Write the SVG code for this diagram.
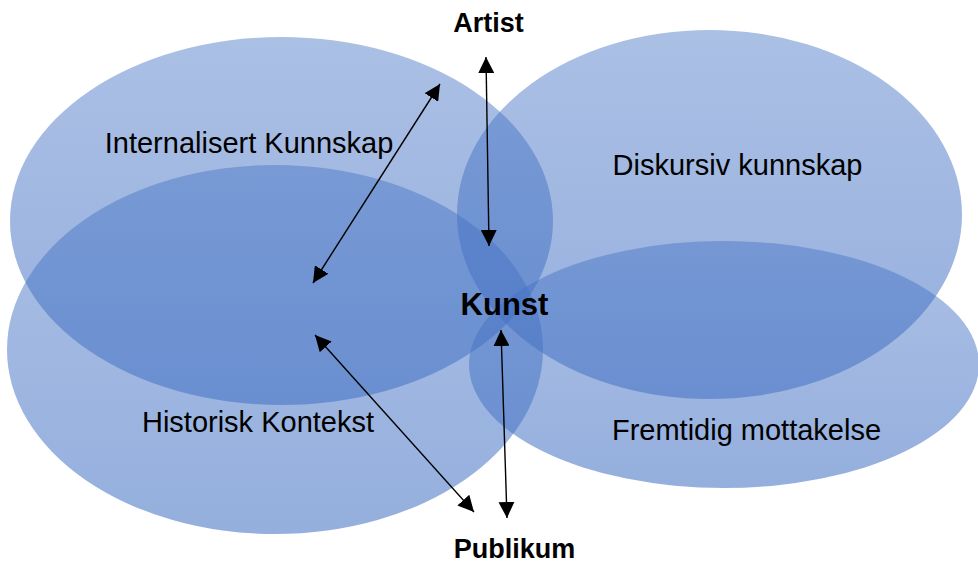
<svg xmlns="http://www.w3.org/2000/svg" width="978" height="565" viewBox="0 0 978 565">
  <defs>
    <linearGradient id="fillGrad" x1="0" y1="0" x2="0" y2="1">
      <stop offset="0" stop-color="#4472C4" stop-opacity="0.45"/>
      <stop offset="1" stop-color="#4472C4" stop-opacity="0.57"/>
    </linearGradient>
    <marker id="arrow" viewBox="0 0 16 16" refX="16" refY="8" markerWidth="16" markerHeight="16" markerUnits="userSpaceOnUse" orient="auto-start-reverse">
      <path d="M0,0 L16,8 L0,16 z" fill="#000"/>
    </marker>
    <style>
      .blob { fill: url(#fillGrad); stroke: none; }
      .label { font-family: "Liberation Sans", Arial, sans-serif; font-size: 29px; fill: #000; text-anchor: middle; }
      .bold { font-family: "Liberation Sans", Arial, sans-serif; font-weight: bold; font-size: 27px; fill: #000; text-anchor: middle; }
      .conn { stroke: #000; stroke-width: 1.4; fill: none; marker-start: url(#arrow); marker-end: url(#arrow); }
    </style>
  </defs>
  <rect width="978" height="565" fill="#fff"/>

  <g id="internalisert">
    <ellipse class="blob" cx="281.5" cy="221" rx="271.5" ry="184"/>
    <text class="label" x="249" y="153">Internalisert Kunnskap</text>
  </g>
  <g id="historisk">
    <ellipse class="blob" cx="275" cy="349.5" rx="268" ry="184.5"/>
    <text class="label" x="258" y="432">Historisk Kontekst</text>
  </g>
  <g id="diskursiv">
    <ellipse class="blob" cx="709.5" cy="214.5" rx="252.5" ry="184.5"/>
    <text class="label" x="737.5" y="175">Diskursiv kunnskap</text>
  </g>
  <g id="fremtidig">
    <ellipse class="blob" cx="724" cy="364.5" rx="255" ry="123.5"/>
    <text class="label" x="746.5" y="440">Fremtidig mottakelse</text>
  </g>

  <g id="artist">
    <text class="bold" x="488.5" y="32">Artist</text>
  </g>
  <g id="kunst">
    <text class="bold" x="504.5" y="315" style="font-size:31px">Kunst</text>
  </g>
  <g id="publikum">
    <text class="bold" x="514.5" y="558">Publikum</text>
  </g>

  <g id="connectors">
    <line class="conn" x1="313" y1="283" x2="440" y2="84"/>
    <line class="conn" x1="486" y1="57" x2="489" y2="246"/>
    <line class="conn" x1="315" y1="335" x2="474" y2="512"/>
    <line class="conn" x1="501" y1="330" x2="507" y2="518"/>
  </g>
</svg>
